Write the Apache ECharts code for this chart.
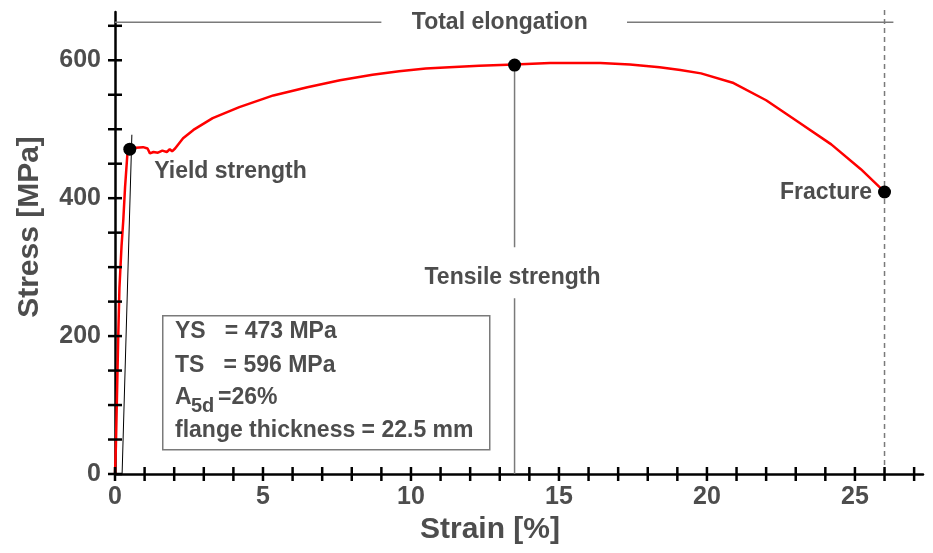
<!DOCTYPE html>
<html>
<head>
<meta charset="utf-8">
<script src="https://cdn.jsdelivr.net/npm/echarts@6/dist/echarts.min.js"></script>
<style>html,body{margin:0;padding:0;background:#fff;}#c{width:933px;height:553px;}</style>
</head>
<body>
<div id="c"></div>
<script>
// ---- data ----
const strain = [0,0.03,0.11,0.15,0.22,0.28,0.34,0.42,0.5,0.7,0.95,1.1,1.18,1.3,1.45,1.6,1.75,1.85,1.93,2.03,2.3,2.65,3.3,4.2,5.35,6.5,7.6,8.7,9.6,10.5,11.3,12.3,13.5,14.7,16.4,17.4,18.4,19.1,19.8,20.9,22.0,23.1,24.2,25.2,26.0];
const stress = [0,40,200,270,330,368,416,465,471,473,474,472,465,467,466,469,467,471,468,472,487,499,516,532,549,561,571,579,584,588,590,592,594,596,596,594,590,586,581,567,542,510,478,442,409];
const offsetLineX = [0.24, 0.57];
const offsetLineY = [0, 492];
const keyNames = ['Yield strength', 'Tensile strength', 'Fracture'];
const keyX = [0.5, 13.5, 26.0];
const keyY = [471, 593, 409];
const totalElongY = 655;
const totalElongSegX = [0, 9.0, 17.3, 26.3];
const tsLineY = [593, 329, 255, 0];
const fractureLineY = [0, 677];
const xTicks = [0,1,2,3,4,5,6,7,8,9,10,11,12,13,14,15,16,17,18,19,20,21,22,23,24,25,26,27];
const xTickLabels = [0,5,10,15,20,25];
const yTicks = [0,50,100,150,200,250,300,350,400,450,500,550,600,650];
const yTickLabels = [0,200,400,600];
const boxLines = ['YS   = 473 MPa', 'TS   = 596 MPa', 'A', '5d', '=26%', 'flange thickness = 22.5 mm'];

const FONT = '"Liberation Sans", Arial, sans-serif';
const GREY = '#4d4d4d';
const LINEGREY = '#7a7a7a';

const curve = strain.map((x, i) => [x, stress[i]]);
const offsetLine = offsetLineX.map((x, i) => [x, offsetLineY[i]]);
const totalElong = [[totalElongSegX[0], totalElongY], [totalElongSegX[1], totalElongY], '-', [totalElongSegX[2], totalElongY], [totalElongSegX[3], totalElongY]];
const tsLine = [[keyX[1], tsLineY[0]], [keyX[1], tsLineY[1]], '-', [keyX[1], tsLineY[2]], [keyX[1], tsLineY[3]]];
const fracLine = fractureLineY.map(y => [keyX[2], y]);

const chart = echarts.init(document.getElementById('c'), null, {renderer: 'canvas'});

chart.setOption({
  animation: false,
  backgroundColor: '#fff',
  grid: {left: 115, right: 10, top: 12, bottom: 79, containLabel: false},
  xAxis: {
    type: 'value', min: 0, max: 27.3,
    splitLine: {show: false},
    name: 'Strain [%]', nameLocation: 'middle', nameGap: 36,
    nameTextStyle: {fontFamily: FONT, fontWeight: 'bold', fontSize: 30, color: GREY, padding: [0, 58, 0, 0]},
    axisLine: {onZero: false, lineStyle: {color: '#000', width: 2.5}},
    axisTick: {show: false},
    axisLabel: {show: true, margin: 11, fontFamily: FONT, fontWeight: 'bold', fontSize: 25, color: GREY, customValues: xTickLabels}
  },
  yAxis: {
    type: 'value', min: 0, max: 670,
    splitLine: {show: false},
    name: 'Stress [MPa]', nameLocation: 'middle', nameGap: 70,
    nameTextStyle: {fontFamily: FONT, fontWeight: 'bold', fontSize: 30, color: GREY, padding: [0, 0, 0, 32]},
    axisLine: {onZero: false, lineStyle: {color: '#000', width: 2.5}},
    axisTick: {show: false},
    axisLabel: {show: true, margin: 14, fontFamily: FONT, fontWeight: 'bold', fontSize: 25, color: GREY, customValues: yTickLabels}
  },
  series: [
    {
      type: 'scatter', name: 'x ticks', data: xTicks.map(v => [v, 0]), symbol: 'rect', symbolSize: [2.5, 14],
      itemStyle: {color: '#000', opacity: 1}, clip: false, z: 6, silent: true
    },
    {
      type: 'scatter', name: 'y ticks', data: yTicks.map(v => [0, v]), symbol: 'rect', symbolSize: [14, 2.5],
      itemStyle: {color: '#000', opacity: 1}, clip: false, z: 6, silent: true
    },
    {
      type: 'line', name: 'total elongation', data: totalElong, showSymbol: false, symbol: 'none',
      lineStyle: {color: LINEGREY, width: 1.5}, connectNulls: false, z: 1, silent: true
    },
    {
      type: 'line', name: 'ts line', data: tsLine, showSymbol: false, symbol: 'none',
      lineStyle: {color: LINEGREY, width: 1.5}, connectNulls: false, z: 1, silent: true
    },
    {
      type: 'line', name: 'fracture line', data: fracLine, showSymbol: false, symbol: 'none', clip: false,
      lineStyle: {color: LINEGREY, width: 1.5, type: [5, 4]}, z: 1, silent: true
    },
    {
      type: 'line', name: 'offset', data: offsetLine, showSymbol: false, symbol: 'none',
      lineStyle: {color: '#000', width: 1}, z: 2, silent: true
    },
    {
      type: 'line', name: 'curve', data: curve, showSymbol: false, symbol: 'none',
      lineStyle: {color: '#ff0000', width: 2.5}, z: 3, silent: true
    },
    {
      type: 'scatter', name: 'points', symbolSize: 13, z: 5, silent: true,
      itemStyle: {color: '#000', opacity: 1},
      data: [
        {value: [keyX[0], keyY[0]], label: {show: true, position: 'right', distance: 18, offset: [0, 22], formatter: keyNames[0]}},
        {value: [keyX[1], keyY[1]], label: {show: false}},
        {value: [keyX[2], keyY[2]], label: {show: true, position: 'left', distance: 6, offset: [0, 1], formatter: keyNames[2]}}
      ],
      label: {fontFamily: FONT, fontWeight: 'bold', fontSize: 23, color: GREY, opacity: 1}
    },
    {
      type: 'scatter', name: 'labels', symbolSize: 1, z: 5, silent: true,
      itemStyle: {color: '#fff', opacity: 0},
      data: [
        {value: [keyX[1] - 0.07, 285], label: {formatter: keyNames[1]}},
        {value: [13.0, totalElongY], label: {formatter: 'Total elongation'}}
      ],
      label: {show: true, position: 'inside', fontFamily: FONT, fontWeight: 'bold', fontSize: 23, color: GREY, opacity: 1}
    }
  ],
  graphic: [
    {type: 'rect', left: 162, top: 315, z: 10, shape: {width: 327, height: 134}, style: {fill: '#fff', stroke: LINEGREY, lineWidth: 1.5}},
    {type: 'text', left: 175, top: 320, z: 11, style: {text: boxLines[0], font: 'bold 23px ' + FONT, fill: GREY}},
    {type: 'text', left: 175, top: 354, z: 11, style: {text: boxLines[1], font: 'bold 23px ' + FONT, fill: GREY}},
    {type: 'text', left: 175, top: 386, z: 11, style: {text: boxLines[2], font: 'bold 23px ' + FONT, fill: GREY}},
    {type: 'text', left: 191, top: 396, z: 11, style: {text: boxLines[3], font: 'bold 20px ' + FONT, fill: GREY}},
    {type: 'text', left: 218, top: 386, z: 11, style: {text: boxLines[4], font: 'bold 23px ' + FONT, fill: GREY}},
    {type: 'text', left: 175, top: 419, z: 11, style: {text: boxLines[5], font: 'bold 23px ' + FONT, fill: GREY}}
  ]
});
</script>
</body>
</html>
